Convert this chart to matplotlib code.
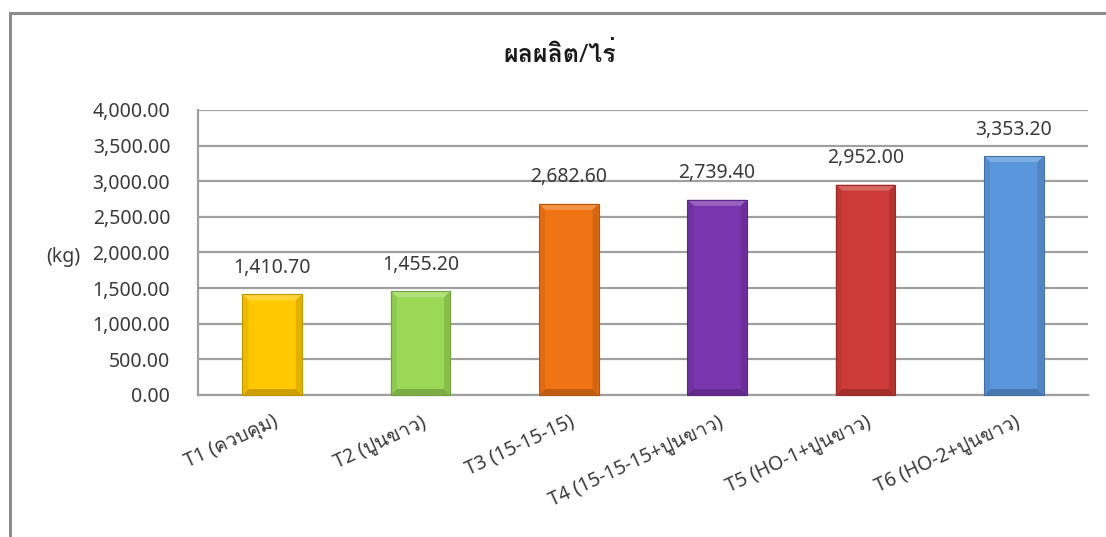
import numpy as np
import matplotlib
matplotlib.use('Agg')
import matplotlib.pyplot as plt
from matplotlib import font_manager, ft2font
from matplotlib.patches import Polygon
import matplotlib.colors as mcolors


categories = ['T1 (ควบคุม)', 'T2 (ปูนขาว)', 'T3 (15-15-15)',
              'T4 (15-15-15+ปูนขาว)', 'T5 (HO-1+ปูนขาว)', 'T6 (HO-2+ปูนขาว)']
yields = [1410.70, 1455.20, 2682.60, 2739.40, 2952.00, 3353.20]
bar_colors = ['#FFC800', '#9AD855', '#F07414', '#7A35AE', '#CC3B37', '#5A96DC']
y_ticks = [0, 500, 1000, 1500, 2000, 2500, 3000, 3500, 4000]
title = 'ผลผลิต/ไร่'
unit = '(kg)'


def thai_family():
    # first installed font that actually has Thai glyphs
    for f in font_manager.fontManager.ttflist:
        try:
            if 0x0E1C in ft2font.FT2Font(f.fname).get_charmap():
                return f.name
        except Exception:
            pass
    return 'DejaVu Sans'


plt.rcParams['font.family'] = ['Noto Sans', thai_family(), 'DejaVu Sans']
text_col = '#3a3a3a'
grid_col = '#A0A0A0'

W, H = 1106, 537
fig = plt.figure(figsize=(W / 100, H / 100), dpi=100)
fig.patch.set_facecolor('white')

# outer chart frame (left and top edges)
fig.add_artist(plt.Line2D([10 / W, 10 / W], [0, 1 - 13 / H], color='#8C8C8C', lw=2.2))
fig.add_artist(plt.Line2D([10 / W, 1], [1 - 13 / H, 1 - 13 / H], color='#8C8C8C', lw=2.2))

ax = fig.add_axes([198 / W, 1 - 395 / H, 890 / W, 285 / H])
x = np.arange(len(categories))
bars = ax.bar(x, yields, width=0.4, color=bar_colors, zorder=3, linewidth=0)

ax.set_xlim(-0.5, len(categories) - 0.5)
ax.set_ylim(0, 4000)
ax.set_yticks(y_ticks)
ax.set_yticklabels(['{:,.2f}'.format(v) for v in y_ticks])
ax.set_xticks(x)
ax.set_xticklabels(categories, rotation=25, ha='right', rotation_mode='anchor')
ax.tick_params(axis='y', length=0, pad=20, labelsize=14, labelcolor=text_col)
ax.tick_params(axis='x', length=0, pad=12, labelsize=14, labelcolor=text_col)

ax.yaxis.grid(True, color=grid_col, lw=1.6, zorder=0)
for side in ['top', 'right']:
    ax.spines[side].set_visible(False)
for side in ['left', 'bottom']:
    ax.spines[side].set_color(grid_col)
    ax.spines[side].set_linewidth(1.6)

# soft bevel: light top edge, slightly darker sides and bottom
fig.canvas.draw()
d = 6
for b, c in zip(bars, bar_colors):
    rgb = np.array(mcolors.to_rgb(c))
    light = np.clip(rgb + (1 - rgb) * 0.22, 0, 1)
    dark = rgb * 0.8
    side = rgb * 0.93
    (x0, y0), (x1, y1) = ax.transData.transform(
        [(b.get_x(), 0), (b.get_x() + b.get_width(), b.get_height())])
    polys = [
        ([(x0, y1), (x1, y1), (x1 - d, y1 - d), (x0 + d, y1 - d)], light),
        ([(x0, y0), (x1, y0), (x1 - d, y0 + d), (x0 + d, y0 + d)], dark),
        ([(x0, y0), (x0, y1), (x0 + d, y1 - d), (x0 + d, y0 + d)], side),
        ([(x1, y0), (x1, y1), (x1 - d, y1 - d), (x1 - d, y0 + d)], side * 0.95),
    ]
    for pts, col in polys:
        fig.add_artist(Polygon(pts, closed=True, transform=None,
                               facecolor=col, edgecolor='none', zorder=4))
    fig.add_artist(Polygon([(x0, y0), (x1, y0), (x1, y1), (x0, y1)], closed=True,
                           transform=None, facecolor='none',
                           edgecolor=rgb * 0.75, lw=0.8, zorder=5))

for xi, v in zip(x, yields):
    ax.annotate('{:,.2f}'.format(v), (xi, v), xytext=(0, 19), textcoords='offset points',
                ha='center', va='center', fontsize=14, color=text_col)

fig.text(560 / W, 1 - 55 / H, title, ha='center', va='center',
         fontsize=18, fontweight='bold', color='#1a1a1a')
fig.text(63 / W, 1 - 257 / H, unit, ha='center', va='center',
         fontsize=14, color=text_col)

fig.savefig('out.png', dpi=100)
